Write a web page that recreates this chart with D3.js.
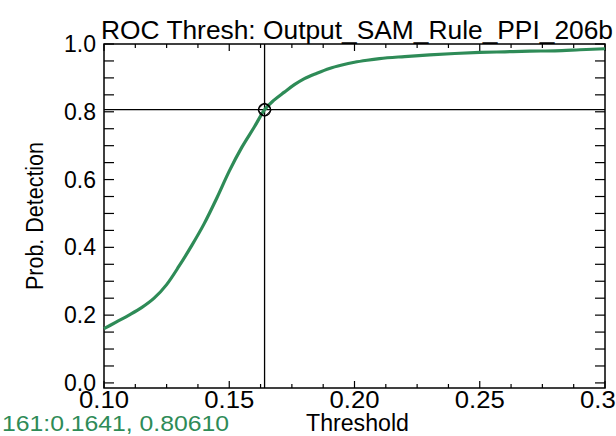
<!DOCTYPE html>
<html><head><meta charset="utf-8">
<script src="https://cdn.jsdelivr.net/npm/d3@7"></script>
<style>body{margin:0;background:#fff;overflow:hidden}svg{display:block}text{font-family:"Liberation Sans",Arial,sans-serif}</style>
</head><body>
<script>
const thresholds = [0.100,0.105,0.110,0.115,0.120,0.125,0.130,0.135,0.140,0.145,0.150,0.155,0.160,0.1641,0.168,0.172,0.176,0.180,0.185,0.190,0.195,0.200,0.205,0.210,0.220,0.230,0.240,0.250,0.260,0.270,0.280,0.290,0.300];
const probDetection = [0.160,0.180,0.200,0.222,0.250,0.290,0.345,0.405,0.470,0.545,0.625,0.695,0.755,0.806,0.835,0.858,0.880,0.898,0.914,0.928,0.938,0.946,0.952,0.957,0.963,0.968,0.972,0.975,0.977,0.979,0.980,0.983,0.986];
const xTicks = [0.10,0.15,0.20,0.25,0.30];
const xTickLabels = ["0.10","0.15","0.20","0.25","0.30"];
const yTicks = [0.0,0.2,0.4,0.6,0.8,1.0];
const yTickLabels = ["0.0","0.2","0.4","0.6","0.8","1.0"];
const selThreshold = 0.1641, selProb = 0.80610, selIndex = 161;
const titleText = "ROC Thresh: Output_SAM_Rule_PPI_206b";

const W=616,H=436, L=104, R=605, T=44, B=388;
const svg=d3.select("body").append("svg").attr("width",W).attr("height",H);
const x=d3.scaleLinear().domain([0.10,0.30]).range([L,R]);
const y=d3.scaleLinear().domain([-0.015,1.0]).range([B,T]);

// frame
svg.append("rect").attr("x",L).attr("y",T).attr("width",R-L).attr("height",B-T).attr("fill","none").attr("stroke","#000").attr("stroke-width",1.5);

// ticks
const xMinor=d3.range(0,17).map(i=>0.10+i*0.0125);
xMinor.forEach(v=>{
  const major = xTicks.some(t=>Math.abs(t-v)<1e-9);
  const len = major?7:4;
  svg.append("line").attr("x1",x(v)).attr("x2",x(v)).attr("y1",B).attr("y2",B-len).attr("stroke","#000").attr("stroke-width",1.2);
  svg.append("line").attr("x1",x(v)).attr("x2",x(v)).attr("y1",T).attr("y2",T+len).attr("stroke","#000").attr("stroke-width",1.2);
});
const yMinor=d3.range(0,21).map(i=>i*0.05);
yMinor.forEach(v=>{
  const len=10;
  svg.append("line").attr("x1",L).attr("x2",L+len).attr("y1",y(v)).attr("y2",y(v)).attr("stroke","#000").attr("stroke-width",1.2);
  svg.append("line").attr("x1",R).attr("x2",R-len).attr("y1",y(v)).attr("y2",y(v)).attr("stroke","#000").attr("stroke-width",1.2);
});

// tick labels
xTicks.forEach((v,i)=>{
  svg.append("text").attr("x",x(v)).attr("y",408).attr("text-anchor","middle").attr("font-size",23)
    .attr("textLength",50).attr("lengthAdjust","spacingAndGlyphs").text(xTickLabels[i]);
});
yTicks.forEach((v,i)=>{
  svg.append("text").attr("x",96).attr("y",y(v)+8).attr("text-anchor","end").attr("font-size",23).text(yTickLabels[i]);
});

// axis titles
svg.append("text").attr("x",(L+R)/2+3).attr("y",431).attr("text-anchor","middle").attr("font-size",23).attr("textLength",103).attr("lengthAdjust","spacingAndGlyphs").text("Threshold");
svg.append("text").attr("transform",`translate(43,${(T+B)/2}) rotate(-90)`).attr("text-anchor","middle").attr("font-size",23).attr("textLength",148).attr("lengthAdjust","spacingAndGlyphs").text("Prob. Detection");
svg.append("text").attr("x",357).attr("y",39).attr("text-anchor","middle").attr("font-size",25).attr("textLength",512).attr("lengthAdjust","spacingAndGlyphs").text(titleText);

// crosshair
svg.append("line").attr("x1",x(selThreshold)).attr("x2",x(selThreshold)).attr("y1",T).attr("y2",B).attr("stroke","#000").attr("stroke-width",1.3);
svg.append("line").attr("x1",L).attr("x2",R).attr("y1",y(selProb)).attr("y2",y(selProb)).attr("stroke","#000").attr("stroke-width",1.3);

// curve
const line=d3.line().x((d,i)=>x(thresholds[i])).y(d=>y(d)).curve(d3.curveMonotoneX);
svg.append("path").datum(probDetection).attr("d",line).attr("fill","none").attr("stroke","#2e8b57").attr("stroke-width",3.2);

// marker
const mx=x(selThreshold), my=y(selProb);
svg.append("circle").attr("cx",mx).attr("cy",my).attr("r",6).attr("fill","none").attr("stroke","#000").attr("stroke-width",1.4);
svg.append("path").attr("d",`M${mx-7},${my}L${mx},${my-7}L${mx+7},${my}L${mx},${my+7}Z`).attr("fill","none").attr("stroke","#000").attr("stroke-width",1);

// status text
svg.append("text").attr("x",2).attr("y",431).attr("font-size",22).attr("fill","#2e8b57").attr("textLength",227).attr("lengthAdjust","spacingAndGlyphs").text(`${selIndex}:${selThreshold.toFixed(4)}, ${selProb.toFixed(5)}`);
</script>
</body></html>
